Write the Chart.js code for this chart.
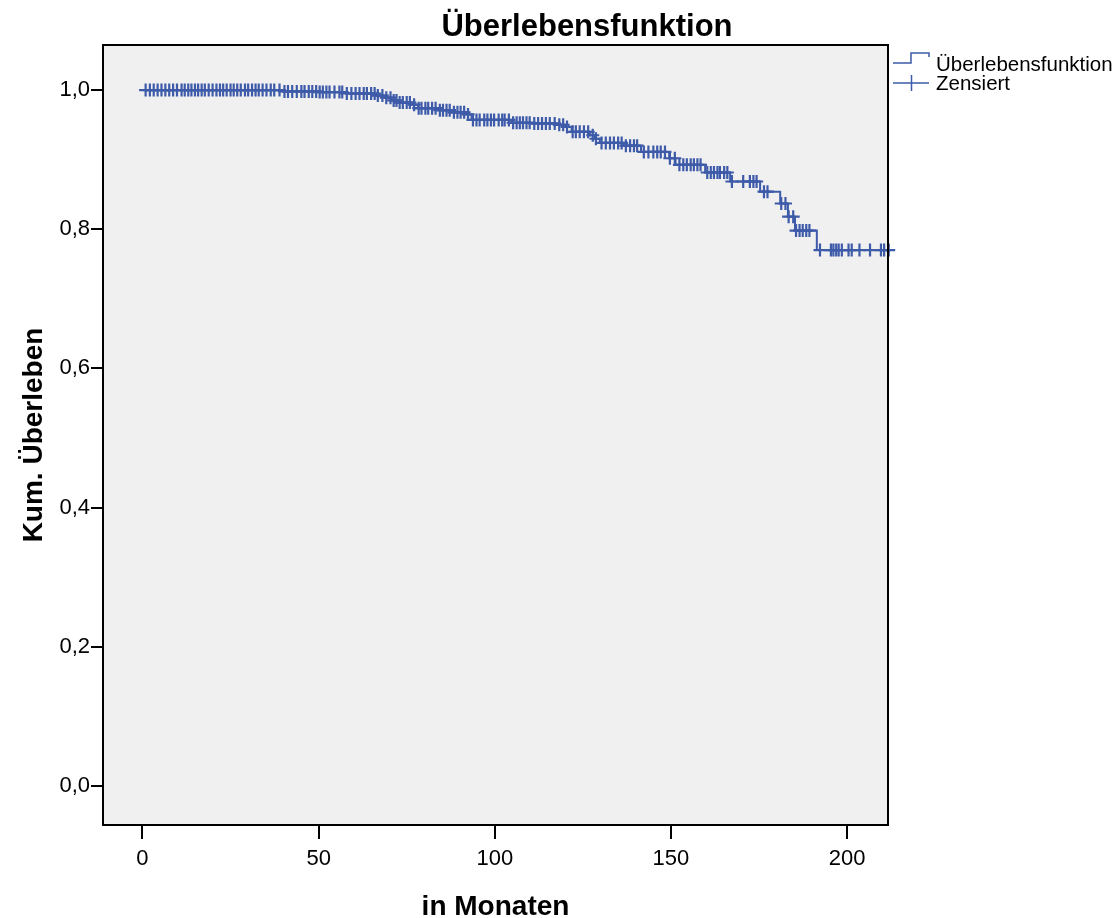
<!DOCTYPE html>
<html lang="de">
<head>
    <meta charset="UTF-8">
    <meta name="viewport" content="width=device-width, initial-scale=1.0">
    <title>Überlebensfunktion</title>
    <style type="text/css">
        html, body {
            margin: 0;
            padding: 0;
            background: #ffffff;
        }
        .chartBox {
            width: 1120px;
            height: 918px;
        }
    </style>
</head>
<body>
    <div class="chartBox">
        <canvas id="myChart"></canvas>
    </div>

    <script src="https://cdn.jsdelivr.net/npm/chart.js"></script>

    <script>
    // data block
    const chartTitle = 'Überlebensfunktion';
    const xTitle = 'in Monaten';
    const yTitle = 'Kum. Überleben';
    const legendLabels = ['Überlebensfunktion', 'Zensiert'];

    // event times (months) and survival after each step
    const stepTimes = [0, 40.0, 50.3, 57.9, 66.4, 68.8, 70.6, 72.5, 76.3, 78.2,
        83.9, 87.7, 92.0, 93.4, 104.7, 110.4, 117.5, 120.4, 121.8, 127.0,
        128.4, 129.8, 136.5, 141.5, 149.5, 151.3, 159.7, 166.8, 175.3, 181.0,
        183.2, 185.2, 191.4];
    const stepSurvival = [1.000, 0.998, 0.997, 0.995, 0.992, 0.989, 0.985, 0.982, 0.979, 0.974,
        0.971, 0.968, 0.965, 0.957, 0.953, 0.952, 0.950, 0.947, 0.940, 0.935,
        0.930, 0.924, 0.920, 0.911, 0.902, 0.8925, 0.8815, 0.8686, 0.854, 0.837,
        0.818, 0.798, 0.770];

    // censored observations (months)
    const censorTimes = [0.9, 2.1, 3.2, 4.3, 5.4, 6.5, 7.6, 8.7, 9.8, 11.1, 12.0, 13.0, 13.9, 14.9,
        15.8, 16.8, 17.7, 18.8, 19.9, 21.0, 22.0, 22.9, 23.9, 25.0, 25.9, 26.9, 27.9, 29.1,
        30.0, 31.1, 32.1, 33.0, 34.1, 35.2, 36.4, 37.4,
        38.9, 40.3, 41.3, 42.5, 43.8, 45.1, 46.0, 47.2, 48.2, 49.3, 50.3, 51.2, 52.2, 53.1,
        54.5, 55.9, 56.7, 58.0, 59.3, 60.5, 61.6, 62.8, 63.7, 64.9, 65.9, 66.8, 68.1, 69.2,
        70.4, 71.3, 72.1, 73.0, 73.9, 75.0,
        75.9, 77.1, 78.4, 79.2, 80.3, 81.1, 82.2, 83.2, 84.4, 85.3, 86.3, 87.2, 88.4, 89.4,
        90.3, 91.3, 92.4, 93.8, 94.8, 95.7, 97.0, 97.9, 98.9, 99.8, 101.1, 102.1, 102.8,
        104.0, 105.2, 106.2, 107.1, 108.0, 109.0, 109.9, 111.2, 112.3, 113.4,
        114.5, 115.6, 117.0, 118.3, 119.4, 120.5, 122.1, 123.0, 124.1, 125.3, 126.5, 127.8,
        128.7, 130.3, 131.5, 132.7, 133.8, 135.0, 136.0, 137.2, 138.4, 139.5, 140.4, 142.3,
        143.6, 145.0, 146.1, 147.1, 148.3, 149.7, 151.1,
        152.4, 153.5, 154.5, 155.6, 156.5, 157.5, 158.4, 160.3, 161.3, 162.2, 163.2, 163.9,
        165.1, 166.0, 167.3, 170.5, 172.4, 173.4, 174.3, 176.4, 177.4, 181.3, 182.5, 183.4,
        184.7, 185.5, 186.5, 187.4, 188.4, 189.3, 192.3, 195.4, 196.1, 196.9, 197.6, 198.5,
        200.4, 201.3, 203.5, 206.5, 209.6, 210.5, 211.8];

    const xTickValues = [0, 50, 100, 150, 200];
    const yTickValues = [0, 0.2, 0.4, 0.6, 0.8, 1.0];

    const lineColor = '#3e5ba9';
    const fontFamily = '"Liberation Sans", Arial, Helvetica, sans-serif';

    // survival level at time t (last step at or before t)
    function survivalAt(t) {
        let s = stepSurvival[0];
        for (let i = 0; i < stepTimes.length; i++) {
            if (stepTimes[i] <= t) s = stepSurvival[i];
        }
        return s;
    }

    const curvePoints = stepTimes.map((t, i) => ({ x: t, y: stepSurvival[i] }));
    // curve runs on to the last follow-up time
    curvePoints.push({ x: censorTimes[censorTimes.length - 1], y: stepSurvival[stepSurvival.length - 1] });

    const censorPoints = censorTimes.map(t => ({ x: t, y: survivalAt(t) }));

    // setup block
    const data = {
        datasets: [{
            label: legendLabels[0],
            data: curvePoints,
            borderColor: lineColor,
            borderWidth: 2,
            stepped: true,
            pointRadius: 0,
            fill: false,
            order: 2
        }, {
            label: legendLabels[1],
            data: censorPoints,
            showLine: false,
            pointStyle: 'cross',
            pointRadius: 6.5,
            pointBorderWidth: 2.2,
            pointBorderColor: lineColor,
            borderColor: lineColor,
            clip: false,
            order: 1
        }]
    };

    // plot background, frame, title and legend
    const decor = {
        id: 'decor',
        beforeDraw(chart) {
            const { ctx, chartArea: a } = chart;
            ctx.save();
            ctx.fillStyle = '#f0f0f0';
            ctx.fillRect(a.left, a.top, a.right - a.left, a.bottom - a.top);
            ctx.restore();
        },
        afterDraw(chart) {
            const { ctx, chartArea: a } = chart;
            ctx.save();
            ctx.strokeStyle = '#000';
            ctx.lineWidth = 2;
            ctx.strokeRect(a.left, a.top, a.right - a.left, a.bottom - a.top);

            // title
            ctx.fillStyle = '#000';
            ctx.font = 'bold 31px ' + fontFamily;
            ctx.textAlign = 'center';
            ctx.textBaseline = 'middle';
            ctx.fillText(chartTitle, 587, 27);

            // legend
            const lx = a.right + 5;
            ctx.strokeStyle = lineColor;
            ctx.lineWidth = 1.5;
            ctx.beginPath();
            ctx.moveTo(lx, 63);
            ctx.lineTo(lx + 18, 63);
            ctx.lineTo(lx + 18, 53);
            ctx.lineTo(lx + 36, 53);
            ctx.lineTo(lx + 36, 57);
            ctx.stroke();
            ctx.beginPath();
            ctx.moveTo(lx, 83);
            ctx.lineTo(lx + 36, 83);
            ctx.moveTo(lx + 18.5, 75);
            ctx.lineTo(lx + 18.5, 91);
            ctx.stroke();

            ctx.fillStyle = '#000';
            ctx.font = '20.5px ' + fontFamily;
            ctx.textAlign = 'left';
            ctx.fillText(legendLabels[0], lx + 43, 65);
            ctx.fillText(legendLabels[1], lx + 43, 84.5);
            ctx.restore();
        }
    };

    // config block
    const config = {
        type: 'line',
        data,
        options: {
            responsive: true,
            maintainAspectRatio: false,
            animation: false,
            layout: {
                padding: { left: 15, right: 232, top: 45, bottom: 0 }
            },
            plugins: {
                legend: { display: false },
                tooltip: { enabled: false },
                title: { display: false }
            },
            scales: {
                x: {
                    type: 'linear',
                    min: -11.2,
                    max: 211.6,
                    afterBuildTicks: scale => {
                        scale.ticks = xTickValues.map(v => ({ value: v }));
                    },
                    afterFit: scale => { scale.height = 93; },
                    ticks: {
                        color: '#000',
                        font: { family: fontFamily, size: 22 },
                        padding: 7,
                        maxRotation: 0,
                        callback: v => String(v)
                    },
                    grid: {
                        display: true,
                        drawOnChartArea: false,
                        drawTicks: true,
                        tickLength: 14,
                        color: '#000',
                        lineWidth: 2
                    },
                    border: { display: false },
                    title: {
                        display: true,
                        text: xTitle,
                        color: '#000',
                        font: { family: fontFamily, size: 28, weight: 'bold', lineHeight: '22px' },
                        padding: { top: 0, bottom: 0 }
                    }
                },
                y: {
                    type: 'linear',
                    min: -0.056,
                    max: 1.0647,
                    afterBuildTicks: scale => {
                        scale.ticks = yTickValues.map(v => ({ value: v }));
                    },
                    afterFit: scale => { scale.width = 88; },
                    ticks: {
                        color: '#000',
                        font: { family: fontFamily, size: 22 },
                        padding: 1,
                        callback: v => v.toFixed(1).replace('.', ',')
                    },
                    grid: {
                        display: true,
                        drawOnChartArea: false,
                        drawTicks: true,
                        tickLength: 12,
                        color: '#000',
                        lineWidth: 2
                    },
                    border: { display: false },
                    title: {
                        display: true,
                        text: yTitle,
                        color: '#000',
                        font: { family: fontFamily, size: 28, weight: 'bold', lineHeight: 1.2 },
                        padding: { top: 2, bottom: 0 }
                    }
                }
            }
        },
        plugins: [decor]
    };

    // render init block
    const myChart = new Chart(
        document.getElementById('myChart'),
        config
    );
    </script>
</body>
</html>
